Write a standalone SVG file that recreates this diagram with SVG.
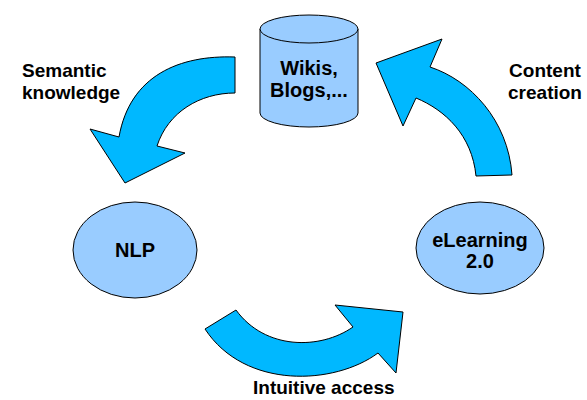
<svg xmlns="http://www.w3.org/2000/svg" width="587" height="400" viewBox="0 0 587 400">
  <style>
    .shape { fill: #99ccff; stroke: #000; stroke-width: 1; }
    .arrow { fill: #00b8ff; stroke: #000; stroke-width: 1; stroke-linejoin: miter; }
    text { font-family: "Liberation Sans", Arial, sans-serif; font-weight: bold; fill: #000; }
    .node-label { font-size: 20px; text-anchor: middle; }
    .edge-label { font-size: 19px; }
  </style>
  <rect width="587" height="400" fill="#fff"/>

  <!-- curved block arrows forming the cycle -->
  <g id="connectors">
    <path class="arrow" d="M235,57 L235,93 C200,93 168,112 157,146 L185,153 L125,183 L90,129 L119,137 C130,75 180,55 235,57 Z"/>
    <path class="arrow" d="M205,329 L236,310 C265,350 320,350 353,327 L335,305 L403,312 L396,373 L378,353 C335,385 245,390 205,329 Z"/>
    <path class="arrow" d="M476,176 C472,135 445,110 416,98 L403,126 L376,63 L442,39 L430,67 C470,80 508,120 512,175 Z"/>
    <text class="edge-label" x="22" y="77">Semantic</text>
    <text class="edge-label" x="22" y="99">knowledge</text>
    <text class="edge-label" x="545" y="77" text-anchor="middle" font-size="20">Content</text>
    <text class="edge-label" x="545" y="99" text-anchor="middle" font-size="20">creation</text>
    <text class="edge-label" x="253" y="394" font-size="20">Intuitive access</text>
  </g>

  <!-- data store -->
  <g id="wikis">
    <path class="shape" d="M260,29 L260,113 A49,14 0 0 0 358,113 L358,29 Z"/>
    <ellipse class="shape" cx="309" cy="29" rx="49" ry="14"/>
    <text class="node-label" x="309" y="75">Wikis,</text>
    <text class="node-label" x="309" y="97">Blogs,...</text>
  </g>

  <g id="nlp">
    <ellipse class="shape" cx="135" cy="250" rx="62" ry="48"/>
    <text class="node-label" x="135" y="257">NLP</text>
  </g>

  <g id="elearning">
    <ellipse class="shape" cx="480" cy="248" rx="64" ry="46"/>
    <text class="node-label" x="480" y="247">eLearning</text>
    <text class="node-label" x="480" y="268">2.0</text>
  </g>
</svg>
